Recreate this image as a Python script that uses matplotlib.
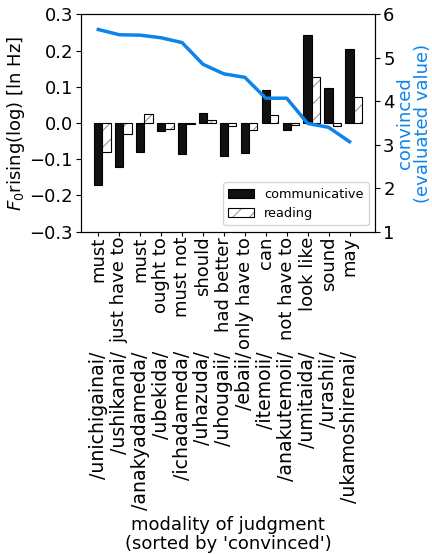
import matplotlib
matplotlib.use("Agg")
import matplotlib.pyplot as plt
import numpy as np

english = ["must", "just have to", "must", "ought to", "must not", "should",
           "had better", "only have to", "can", "not have to", "look like",
           "sound", "may"]
romaji = ["/unichigainai/", "/ushikanai/", "/anakyadameda/", "/ubekida/",
          "/ichadameda/", "/uhazuda/", "/uhougaii/", "/ebaii/", "/itemoii/",
          "/anakutemoii/", "/umitaida/", "/urashii/", "/ukamoshirenai/"]
communicative = [-0.172, -0.121, -0.080, -0.022, -0.085, 0.028, -0.090,
                 -0.082, 0.090, -0.020, 0.242, 0.096, 0.204]
reading = [-0.081, -0.031, 0.026, -0.017, -0.002, 0.009, -0.009,
           -0.020, 0.021, -0.005, 0.126, -0.007, 0.071]
convinced = [5.65, 5.53, 5.52, 5.46, 5.35, 4.85, 4.63, 4.55, 4.07, 4.07,
             3.49, 3.40, 3.07]

FS = 13
BLUE = "#0d84e9"
plt.rcParams["font.family"] = ["DejaVu Sans"]
plt.rcParams["font.size"] = FS
plt.rcParams["hatch.linewidth"] = 0.8

fig = plt.figure(figsize=(4.32, 5.54), dpi=100)
ax = fig.add_axes([0.1868, 0.5818, 0.6824, 0.3924])

x = np.arange(len(english))
w = 0.4
b1 = ax.bar(x, communicative, w, color="#111111", edgecolor="black",
            linewidth=0.8, label="communicative")
b2h = ax.bar(x + w, reading, w, color="white", edgecolor="#9a9a9a",
             hatch="//", linewidth=0)
b2o = ax.bar(x + w, reading, w, fill=False, edgecolor="black", linewidth=0.8)

ax.set_ylim(-0.3, 0.3)
ax.set_yticks([-0.3, -0.2, -0.1, 0.0, 0.1, 0.2, 0.3])
ax.set_ylabel("$F_0$rising(log) [ln Hz]", fontsize=FS, labelpad=2)

ax.set_xticks(x)
ax.set_xticklabels(english, rotation=90, fontsize=FS)
ax.xaxis.remove_overlapping_locs = False
ax.set_xticks(x, minor=True)
ax.set_xticklabels(romaji, minor=True, rotation=90, fontsize=13.6)
ax.tick_params(axis="x", which="major", length=3.2, pad=0.4)
ax.tick_params(axis="x", which="minor", length=0, pad=86.0)
ax.tick_params(axis="y", length=3.5, pad=2.0)
ax.set_xlabel("modality of judgment\n(sorted by 'convinced')", fontsize=FS,
              labelpad=5, linespacing=1.05)

leg = ax.legend([b1[0], (b2h[0], b2o[0])], ["communicative", "reading"],
                loc="lower right", fontsize=9.3)

ax2 = ax.twinx()
ax2.plot(x, convinced, color=BLUE, linewidth=2.5)
ax2.set_ylim(1, 6)
ax2.set_yticks([1, 2, 3, 4, 5, 6])
ax2.tick_params(axis="y", length=3.5, pad=2.0)
ax2.set_ylabel("convinced\n(evaluated value)", color=BLUE, fontsize=FS,
               labelpad=1, linespacing=1.0)

fig.savefig("out.png", dpi=100)
